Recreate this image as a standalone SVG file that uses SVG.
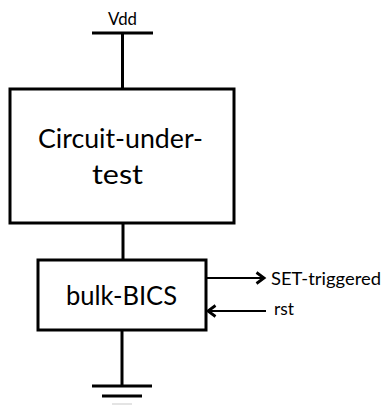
<svg xmlns="http://www.w3.org/2000/svg" width="381" height="405" viewBox="0 0 381 405">
<defs>
<style>
.w{stroke:#000;stroke-width:3;fill:none;stroke-linecap:butt}
.a{stroke:#000;stroke-width:2.2;fill:none}
.box{fill:#fff;stroke:#000;stroke-width:3}
.big{font-family:Lato,"Open Sans",sans-serif;font-size:26.5px;fill:#000}
.sm{font-family:Lato,"Open Sans",sans-serif;font-size:17.2px;fill:#000}
</style>
<marker id="ah" markerWidth="14" markerHeight="14" refX="10" refY="7" orient="auto" markerUnits="userSpaceOnUse">
<polyline points="2.5,1.5 10,7 2.5,12.5" fill="none" stroke="#000" stroke-width="2.8" stroke-linejoin="miter"/>
</marker>
</defs>
<rect width="381" height="405" fill="#fff"/>
<g id="connectors">
<line class="w" x1="92" y1="33" x2="153" y2="33"/>
<line class="w" x1="122.5" y1="33" x2="122.5" y2="89"/>
<line class="w" x1="123" y1="223" x2="123" y2="260"/>
<line class="w" x1="122" y1="330" x2="122" y2="386"/>
<line class="w" x1="92" y1="386" x2="152" y2="386"/>
<line class="w" x1="102" y1="396" x2="142" y2="396"/>
<line x1="112" y1="404" x2="132" y2="404" stroke="#e4e4e4" stroke-width="2"/>
<line class="a" x1="207" y1="278" x2="264" y2="278" marker-end="url(#ah)"/>
<line class="a" x1="266" y1="311" x2="208" y2="311" marker-end="url(#ah)"/>
</g>
<g id="vdd">
<text class="sm" x="108" y="25" textLength="29" lengthAdjust="spacingAndGlyphs">Vdd</text>
</g>
<g id="cut">
<rect class="box" x="10" y="89" width="224" height="134"/>
<text class="big" x="38" y="148" textLength="165" lengthAdjust="spacingAndGlyphs">Circuit-under-</text>
<text class="big" x="92" y="184" textLength="51" lengthAdjust="spacingAndGlyphs">test</text>
</g>
<g id="bics">
<rect class="box" x="38" y="260" width="168" height="70"/>
<text class="big" x="66" y="305" textLength="111" lengthAdjust="spacingAndGlyphs">bulk-BICS</text>
</g>
<g id="set-label">
<text class="sm" x="271" y="285" textLength="110" lengthAdjust="spacingAndGlyphs">SET-triggered</text>
</g>
<g id="rst-label">
<text class="sm" x="274" y="315" textLength="20" lengthAdjust="spacingAndGlyphs">rst</text>
</g>
</svg>
